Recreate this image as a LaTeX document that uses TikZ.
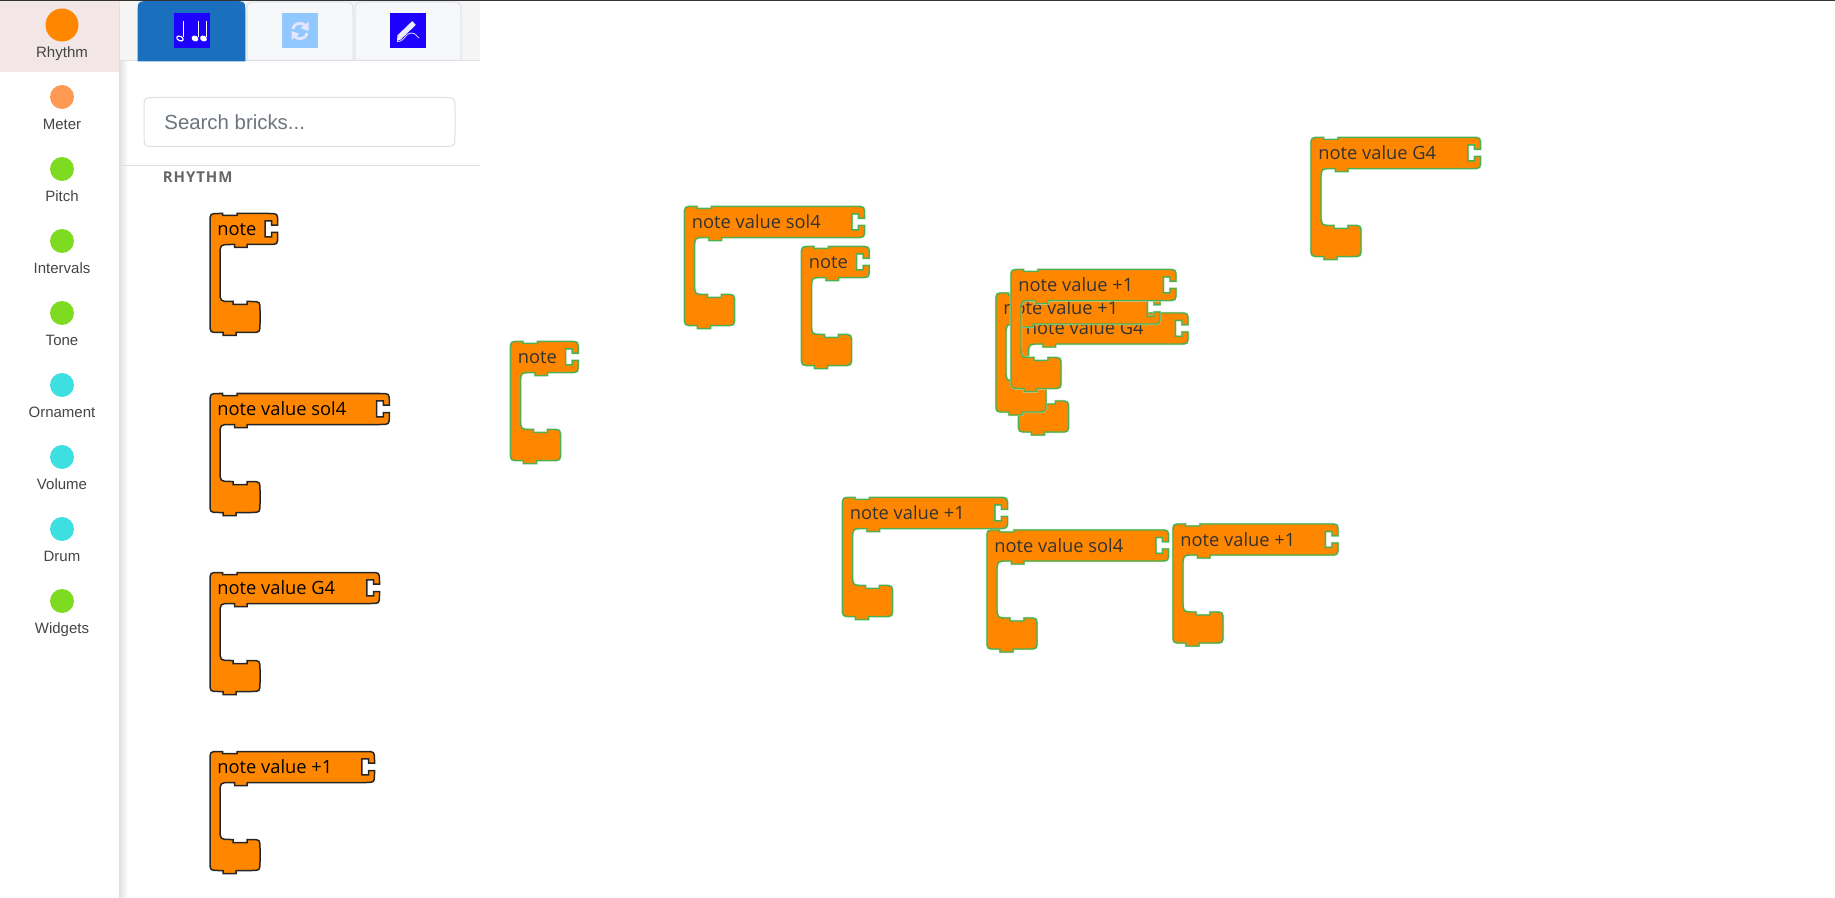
\documentclass[tikz,border=0pt]{standalone}
\usepackage{fontspec}
\setmainfont{Liberation Sans}
\newfontfamily\brickfont{Open Sans}
\newfontfamily\headfont[LetterSpace=6]{Open Sans}
\definecolor{brickorange}{HTML}{FF8700}
\definecolor{brickgreen}{HTML}{4CAF50}
\definecolor{brickhalo}{HTML}{BFE3C0}
\definecolor{sidetext}{HTML}{444444}
\definecolor{dotgreen}{HTML}{7FDB22}
\definecolor{dotcyan}{HTML}{3EDFE0}
\definecolor{dotmeter}{HTML}{FF9A55}
\definecolor{tabedge}{HTML}{DDE0E6}
\definecolor{tabfill}{HTML}{F7F8FA}
\definecolor{iconblue}{HTML}{1E00FF}
\tikzset{
  sidelabel/.style={anchor=base,inner sep=0.75pt,text=sidetext,font=\fontsize{7.5}{9}\selectfont},
  palette/.style={draw=black!85,line width=0.75pt,fill=brickorange},
  placed/.style={preaction={draw=brickhalo,line width=1.1pt},draw=brickgreen,line width=0.7pt,fill=brickorange},
  bricktext/.style={anchor=base west,inner sep=0pt,font=\brickfont\fontsize{9.15}{11}\selectfont},
  tabbox/.style={draw=tabedge,line width=0.5pt,fill=tabfill},
}
% #1 name, #2 look, #3 x, #4 y, #5 width, #6 text colour, #7 label
\newcommand{\brick}[7]{
\begin{scope}[shift={(#3,#4)}]
\draw [#2] (0,9) .. controls (0,0) .. (9,0) -- (12.5,0) -- (12.5,2) -- (27,2) -- (27,0) -- ({#5-9},0) .. controls (#5,0) .. (#5,9) -- (#5,11.7) -- ({#5-6},11.7) -- ({#5-6},7.4) -- ({#5-12.7},7.4) -- ({#5-12.7},23.4) -- ({#5-6},23.4) -- ({#5-6},19) -- (#5,19) -- (#5,22) .. controls (#5,31) .. ({#5-9},31) -- (37,31) -- (37,34) -- (24.5,34) -- (24.5,31) -- (21,31) .. controls (10,31) .. (10,42) -- (10,77) .. controls (10,88) .. (21,88) -- (23,88) -- (23,91) -- (37,91) -- (37,88) -- (41,88) .. controls (50,88) .. (50,97) -- (50,110) .. controls (50,119) .. (41,119) -- (26,119) -- (26,122) -- (13,122) -- (13,119) -- (9,119) .. controls (0,119) .. (0,110) -- cycle ;
\draw (7,22) node [bricktext,text=#6] (#1) {#7};
\end{scope}
}

\begin{document}
\begin{tikzpicture}[x=0.5pt,y=0.5pt,yscale=-1,xscale=1]
\useasboundingbox (0,0) rectangle (1835,898);

%Shape: Rectangle, sidebar highlight
\fill [color={rgb,255:red,242;green,230;blue,230}] (0,1) rectangle (119,72.5);
%Shape: Rectangle, sidebar shadow
\fill [left color=black!12,right color=white] (119,1) rectangle (128,898);
%Shape: Rectangle, tab strip
\fill [color={rgb,255:red,245;green,245;blue,245}] (120,1) rectangle (480,60.5);
\draw [color=black!12,line width=0.5pt] (120,60.5) -- (480,60.5);
%Shape: Rectangle, top line
\fill [color=black!80] (0,0) rectangle (1835,1.5);

%Shape: Tabs
\draw [color={rgb,255:red,26;green,111;blue,190},fill={rgb,255:red,26;green,111;blue,190}] (138,61) -- (138,14) .. controls (138,1.5) .. (150,1.5) -- (233,1.5) .. controls (245,1.5) .. (245,14) -- (245,61) -- cycle ;
\draw [tabbox] (247,60.5) -- (247,13) .. controls (247,2) .. (258,2) -- (342,2) .. controls (353,2) .. (353,13) -- (353,60.5) -- cycle ;
\draw [tabbox] (355,60.5) -- (355,13) .. controls (355,2) .. (366,2) -- (450,2) .. controls (461,2) .. (461,13) -- (461,60.5) -- cycle ;

%Shape: notes icon
\fill [color=iconblue] (174,13) rectangle (210,48.5);
\draw [color=white,line width=0.45pt] (183.3,21) -- (183.3,37) (198,21) -- (198,37) (206.7,21) -- (206.7,37);
\draw [color=white,line width=0.6pt,rotate around={25:(180,38.5)}] (180,38.5) ellipse (3.4 and 2.2);
\fill [color=white,rotate around={25:(195,38.5)}] (195,38.5) ellipse (3.6 and 2.8);
\fill [color=white,rotate around={25:(203.5,38.5)}] (203.5,38.5) ellipse (3.6 and 2.8);

%Shape: refresh icon
\fill [color={rgb,255:red,144;green,200;blue,255}] (282,13) rectangle (318,48.5);
\draw [color=white!90!blue,line width=1.4pt] (293,29) .. controls (294,22) and (303,22) .. (306,26);
\draw [color=white!90!blue,line width=1.4pt] (307,33) .. controls (306,40) and (297,40) .. (294,36);
\fill [color=white!90!blue] (308.5,22) -- (308.5,31) -- (300.5,28) -- cycle ;
\fill [color=white!90!blue] (291.5,40) -- (291.5,31) -- (299.5,34) -- cycle ;

%Shape: pen icon
\fill [color=iconblue] (390,13) rectangle (426,48.5);
\draw [color=white!92!blue,line width=2.6pt] (399.5,37) -- (414,23);
\fill [color=white!92!blue] (397,41) -- (397.5,35) -- (402,39) -- cycle ;
\draw [color=white!80!blue,line width=0.45pt] (397,41.5) .. controls (405,42) and (405,33) .. (411,33) .. controls (414,33) .. (419,38);

%Shape: search box
\draw [color=tabedge,line width=0.5pt,fill=white] (156,97.5) -- (443,97.5) .. controls (455,97.5) .. (455,109.5) -- (455,134.5) .. controls (455,146.5) .. (443,146.5) -- (156,146.5) .. controls (144,146.5) .. (144,134.5) -- (144,109.5) .. controls (144,97.5) .. (156,97.5) -- cycle ;
%Straight Lines, panel rule
\draw [color=black!12,line width=0.5pt] (120,165.5) -- (480,165.5);

% Text Node
\draw (162.5,122) node [anchor=west,inner sep=0.75pt,text={rgb,255:red,108;green,117;blue,125},font=\fontsize{10.2}{12}\selectfont] (searchtext) {Search bricks...};
% Text Node
\draw (161,177.5) node [anchor=west,inner sep=0.75pt,text=black!60,font=\headfont\bfseries\fontsize{7.5}{9}\selectfont] (rhythmhead) {RHYTHM};

%Shape: Circles of the sidebar
\fill [color=brickorange] (62,25) circle (16.5);
\fill [color=dotmeter] (62,97) circle (12);
\fill [color=dotgreen] (62,169) circle (12);
\fill [color=dotgreen] (62,241) circle (12);
\fill [color=dotgreen] (62,313) circle (12);
\fill [color=dotcyan] (62,385) circle (12);
\fill [color=dotcyan] (62,457) circle (12);
\fill [color=dotcyan] (62,529) circle (12);
\fill [color=dotgreen] (62,601) circle (12);

% Text Node
\draw (62,57.3) node [sidelabel] (rhythmlabel) {Rhythm};
% Text Node
\draw (62,129.3) node [sidelabel] (meterlabel) {Meter};
% Text Node
\draw (62,201.3) node [sidelabel] (pitchlabel) {Pitch};
% Text Node
\draw (62,273.3) node [sidelabel] (intervalslabel) {Intervals};
% Text Node
\draw (62,345.3) node [sidelabel] (tonelabel) {Tone};
% Text Node
\draw (62,417.3) node [sidelabel] (ornamentlabel) {Ornament};
% Text Node
\draw (62,489.3) node [sidelabel] (volumelabel) {Volume};
% Text Node
\draw (62,561.3) node [sidelabel] (drumlabel) {Drum};
% Text Node
\draw (62,633.3) node [sidelabel] (widgetslabel) {Widgets};

%Bricks of the palette
\brick{palnote}{palette}{210}{213.5}{67.7}{black}{note}
\brick{palsol}{palette}{210}{393.5}{179.3}{black}{note value sol4}
\brick{palgfour}{palette}{210}{572.5}{169.5}{black}{note value G4}
\brick{palplus}{palette}{210}{751.5}{164.5}{black}{note value +1}

%Bricks of the workspace
\brick{worknote}{placed}{510.5}{341.5}{67.7}{black!80}{note}
\brick{worksol}{placed}{684.5}{206.5}{180}{black!80}{note value sol4}
\brick{worknotetwo}{placed}{801.5}{246.5}{67.7}{black!80}{note}
\brick{workgfour}{placed}{1311}{137.5}{169.5}{black!80}{note value G4}
\brick{workplus}{placed}{842.5}{497.5}{165}{black!80}{note value +1}
\brick{worksoltwo}{placed}{987}{530}{181.5}{black!80}{note value sol4}
\brick{workplustwo}{placed}{1173}{524}{165}{black!80}{note value +1}

%Overlapping heap
\brick{heapgfour}{placed}{1018.5}{313}{169.5}{black!80}{note value G4}
\brick{heapplus}{placed}{996}{293}{164}{black!80}{note value +1}
\brick{heapplustwo}{placed}{1011}{269.5}{165}{black!80}{note value +1}

\end{tikzpicture}
\end{document}
